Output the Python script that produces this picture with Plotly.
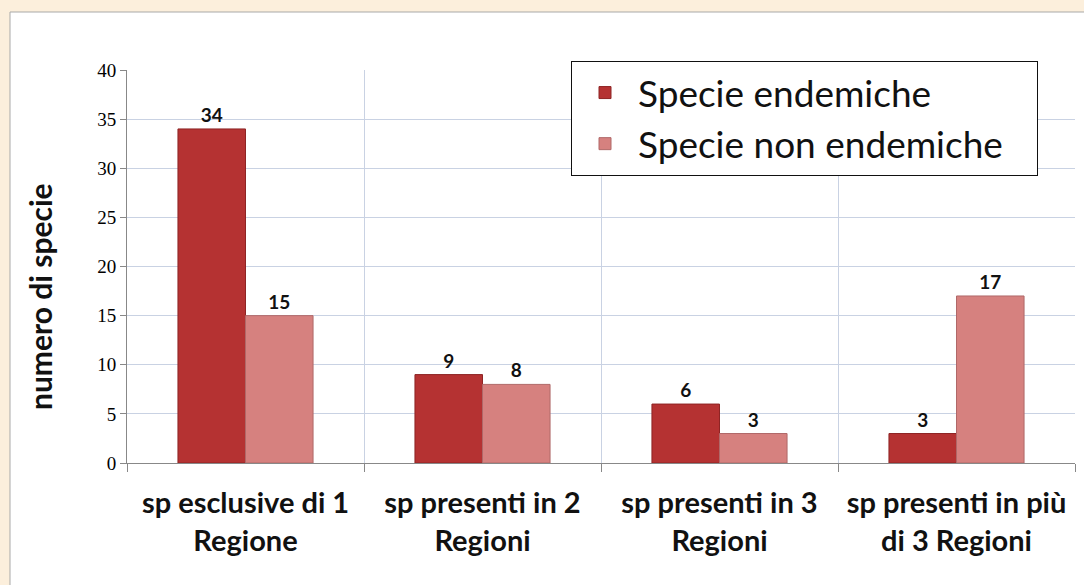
import plotly.graph_objects as go

categories = ["sp esclusive di 1<br>Regione", "sp presenti in 2<br>Regioni",
              "sp presenti in 3<br>Regioni", "sp presenti in più<br>di 3 Regioni"]
endemiche = [34, 9, 6, 3]
non_endemiche = [15, 8, 3, 17]
series_names = ["Specie endemiche", "Specie non endemiche"]
y_ticks = [0, 5, 10, 15, 20, 25, 30, 35, 40]
y_title = "numero di specie"

W, H = 1084, 585
L, R, T, B = 127, 9, 70, 122
pw, ph = W - L - R, H - T - B

def px_x(p):
    return (p - L) / pw

def px_y(p):
    return (H - B - p) / ph

label_font = dict(family="Lato", size=19, color="#111111", weight="bold")
pad = "\u00a0" * 3

fig = go.Figure()
fig.add_trace(go.Bar(
    x=categories, y=endemiche, name=series_names[0] + pad,
    marker=dict(color="#B53232", line=dict(color="#8E2424", width=1)),
    text=endemiche, textposition="outside", constraintext="none",
    textfont=label_font, cliponaxis=False,
))
fig.add_trace(go.Bar(
    x=categories, y=non_endemiche, name=series_names[1] + pad,
    marker=dict(color="#D6817F", line=dict(color="#B06868", width=1)),
    text=non_endemiche, textposition="outside", constraintext="none",
    textfont=label_font, cliponaxis=False,
))

fig.add_shape(type="rect", xref="paper", yref="paper",
              x0=px_x(10), x1=px_x(1095), y0=px_y(600), y1=px_y(12),
              fillcolor="white", line=dict(color="#A9A9A9", width=1), layer="below")

fig.add_annotation(
    text=y_title, xref="paper", yref="paper", x=px_x(40), y=px_y(297),
    xanchor="center", yanchor="middle", textangle=-90, showarrow=False,
    font=dict(family="Lato", size=30, color="#111111", weight="bold"),
)

fig.update_layout(
    width=W, height=H,
    margin=dict(l=L, r=R, t=T, b=B),
    paper_bgcolor="#FCEFDC",
    plot_bgcolor="white",
    barmode="group",
    bargap=0.43,
    bargroupgap=0,
    font=dict(family="Lato", color="#111111"),
    legend=dict(
        x=px_x(571), y=px_y(61), xanchor="left", yanchor="top",
        bgcolor="white", bordercolor="#111111", borderwidth=1,
        font=dict(family="Lato", size=37, color="#111111"),
        itemwidth=56,
    ),
    xaxis=dict(
        tickson="boundaries", showgrid=True, gridcolor="#C9D2E3", gridwidth=1,
        ticks="outside", ticklen=8, tickcolor="#888888",
        showline=True, linecolor="#888888", ticklabelstandoff=14,
        tickfont=dict(family="Lato", size=29, color="#111111", weight="bold"),
    ),
    yaxis=dict(
        range=[0, 40], tickvals=y_ticks, showgrid=True, gridcolor="#C9D2E3",
        ticks="outside", ticklen=6, tickcolor="#888888",
        showline=True, linecolor="#888888", zeroline=False,
        tickfont=dict(family="Liberation Serif", size=19, color="#000000"),
    ),
)

fig.write_html(
    "out.html",
    config={"displayModeBar": False},
    post_script="document.body.style.margin='0';document.body.style.background='#FCEFDC';",
)
